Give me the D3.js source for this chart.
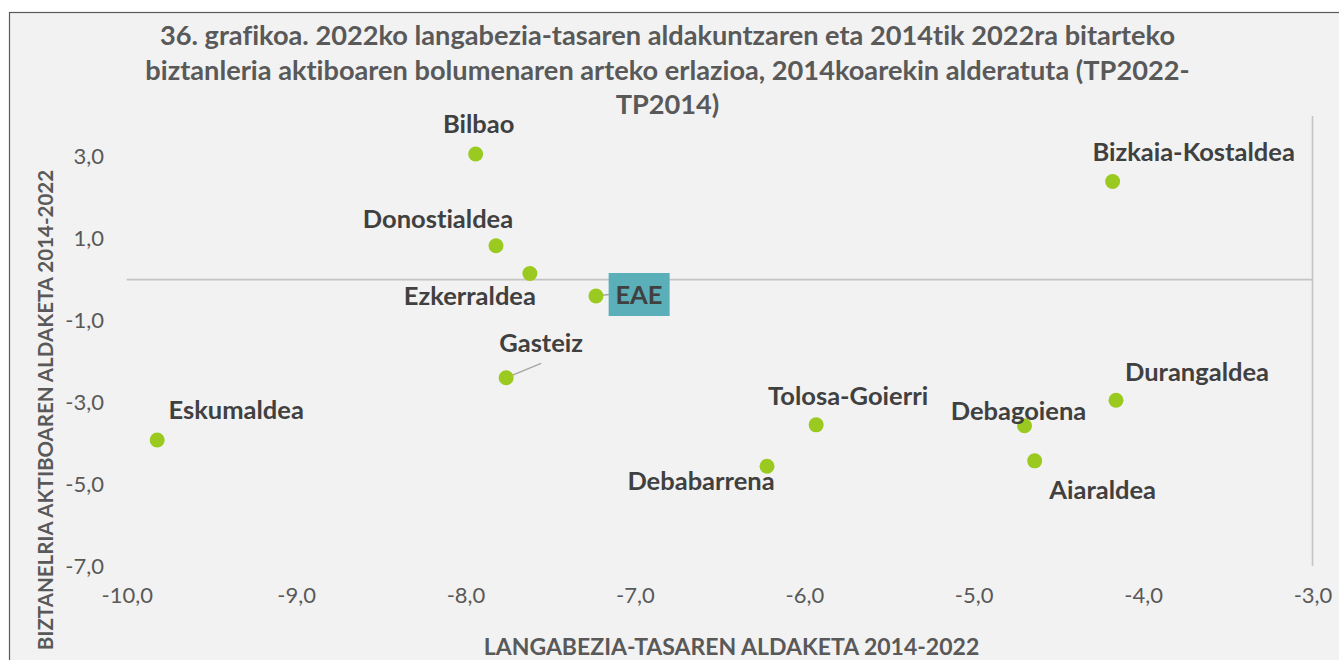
<!DOCTYPE html>
<html>
<head>
<meta charset="utf-8">
<script src="https://cdn.jsdelivr.net/npm/d3@7"></script>
<style>
  html, body { margin: 0; padding: 0; background: #ffffff; }
  svg { display: block; }
  text { font-family: Lato, "Open Sans", sans-serif; font-variant-ligatures: none; }
</style>
</head>
<body>
<svg id="chart" width="1339" height="660"></svg>
<script>
// Regions (eskualdeak) and their values
const regions = ["Bilbao", "Bizkaia-Kostaldea", "Donostialdea", "Ezkerraldea", "EAE", "Gasteiz",
                 "Tolosa-Goierri", "Eskumaldea", "Debabarrena", "Debagoiena", "Durangaldea", "Aiaraldea"];
// Change in unemployment rate 2014-2022 (percentage points)
const unemploymentChange = [-7.94, -4.18, -7.82, -7.62, -7.23, -7.76, -5.93, -9.82, -6.22, -4.70, -4.16, -4.64];
// Change in active population 2014-2022 (%)
const activePopChange = [3.07, 2.40, 0.83, 0.15, -0.40, -2.40, -3.55, -3.92, -4.56, -3.57, -2.95, -4.43];

const xTicks = [-10, -9, -8, -7, -6, -5, -4, -3];
const yTicks = [-7, -5, -3, -1, 1, 3];

const titleLines = [
  "36. grafikoa. 2022ko langabezia-tasaren aldakuntzaren eta 2014tik 2022ra bitarteko",
  "biztanleria aktiboaren bolumenaren arteko erlazioa, 2014koarekin alderatuta (TP2022-",
  "TP2014)"
];
const xTitle = "LANGABEZIA-TASAREN ALDAKETA 2014-2022";
const yTitle = "BIZTANELRIA AKTIBOAREN ALDAKETA 2014-2022";

// Label placement relative to each point: [dx of text centre, dy of baseline]
const labelOffset = {
  "Bilbao": [3, -21],
  "Bizkaia-Kostaldea": [81, -20],
  "Donostialdea": [-58, -18],
  "Ezkerraldea": [-60, 31],
  "EAE": [43, 8],
  "Gasteiz": [35, -26],
  "Tolosa-Goierri": [32, -20],
  "Eskumaldea": [79, -21],
  "Debabarrena": [-66, 24],
  "Debagoiena": [-6, -6],
  "Durangaldea": [81, -19],
  "Aiaraldea": [68, 38]
};

const data = regions.map((name, i) => ({ name, x: unemploymentChange[i], y: activePopChange[i] }));

const svg = d3.select("#chart");

// Chart area background and frame
svg.append("rect").attr("x", 9.5).attr("y", 12.5).attr("width", 1340).attr("height", 660)
  .attr("fill", "#f2f2f2").attr("stroke", "#595959").attr("stroke-width", 1.2);

const x = d3.scaleLinear().domain([-10, -3]).range([126.7, 1312.5]);
const y = d3.scaleLinear().domain([-7, 4]).range([566, 116]);

const fmt = d => d3.format(".1f")(d).replace(".", ",").replace("−", "-");

// Title
svg.append("g").selectAll("text").data(titleLines).join("text")
  .attr("x", 667.5).attr("y", (d, i) => 45 + i * 34.5)
  .attr("text-anchor", "middle")
  .attr("font-size", 27.2).attr("font-weight", 700).attr("fill", "#595959")
  .text(d => d);

// Axis lines: horizontal crosses at y = 0, vertical at x = -3
svg.append("line")
  .attr("x1", x(-10)).attr("x2", x(-3)).attr("y1", y(0)).attr("y2", y(0))
  .attr("stroke", "#c4c4c4").attr("stroke-width", 1.6);
svg.append("line")
  .attr("x1", x(-3)).attr("x2", x(-3)).attr("y1", y(4)).attr("y2", y(-7))
  .attr("stroke", "#c4c4c4").attr("stroke-width", 1.6);

// X tick labels, placed at the bottom of the plot
const xAxis = d3.axisBottom(x).tickValues(xTicks).tickSize(0).tickPadding(0).tickFormat(fmt);
const gx = svg.append("g").attr("transform", `translate(0, ${y(-7) + 21})`).call(xAxis);
gx.select(".domain").remove();
gx.selectAll("text").attr("font-size", 22).attr("fill", "#595959")
  .attr("font-family", "Lato, 'Open Sans', sans-serif").attr("dy", "0.71em");

// Y tick labels on the left
const yAxis = d3.axisLeft(y).tickValues(yTicks).tickSize(0).tickPadding(0).tickFormat(fmt);
const gy = svg.append("g").attr("transform", `translate(104, 0)`).call(yAxis);
gy.select(".domain").remove();
gy.selectAll("text").attr("font-size", 22).attr("fill", "#595959")
  .attr("font-family", "Lato, 'Open Sans', sans-serif");

// Axis titles
svg.append("text").attr("x", 731.5).attr("y", 655)
  .attr("text-anchor", "middle").attr("font-size", 23).attr("font-weight", 700).attr("fill", "#595959")
  .text(xTitle);
svg.append("text").attr("transform", "translate(53, 410) rotate(-90)")
  .attr("text-anchor", "middle").attr("font-size", 20.5).attr("font-weight", 700).attr("fill", "#595959")
  .text(yTitle);

// Leader lines for the EAE and Gasteiz labels
const eae = data.find(d => d.name === "EAE");
const gas = data.find(d => d.name === "Gasteiz");
svg.append("line")
  .attr("x1", x(eae.x)).attr("y1", y(eae.y)).attr("x2", x(eae.x) + 13).attr("y2", y(eae.y) - 1.5)
  .attr("stroke", "#a6a6a6").attr("stroke-width", 1.5);
svg.append("line")
  .attr("x1", x(gas.x)).attr("y1", y(gas.y)).attr("x2", x(gas.x) + 35).attr("y2", y(gas.y) - 14.5)
  .attr("stroke", "#a6a6a6").attr("stroke-width", 1.5);

// Points
svg.append("g").selectAll("circle").data(data).join("circle")
  .attr("cx", d => x(d.x)).attr("cy", d => y(d.y)).attr("r", 7.5)
  .attr("fill", "#9aca1f");

// Highlight box behind the EAE label
svg.append("rect")
  .attr("x", x(eae.x) + 12.7).attr("y", y(eae.y) - 23)
  .attr("width", 61).attr("height", 43)
  .attr("fill", "#5aafb8");

// Data labels
svg.append("g").selectAll("text").data(data).join("text")
  .attr("x", d => x(d.x) + labelOffset[d.name][0])
  .attr("y", d => y(d.y) + labelOffset[d.name][1])
  .attr("text-anchor", "middle")
  .attr("font-size", 25.5).attr("font-weight", 700).attr("fill", "#404040")
  .text(d => d.name);
</script>
</body>
</html>
